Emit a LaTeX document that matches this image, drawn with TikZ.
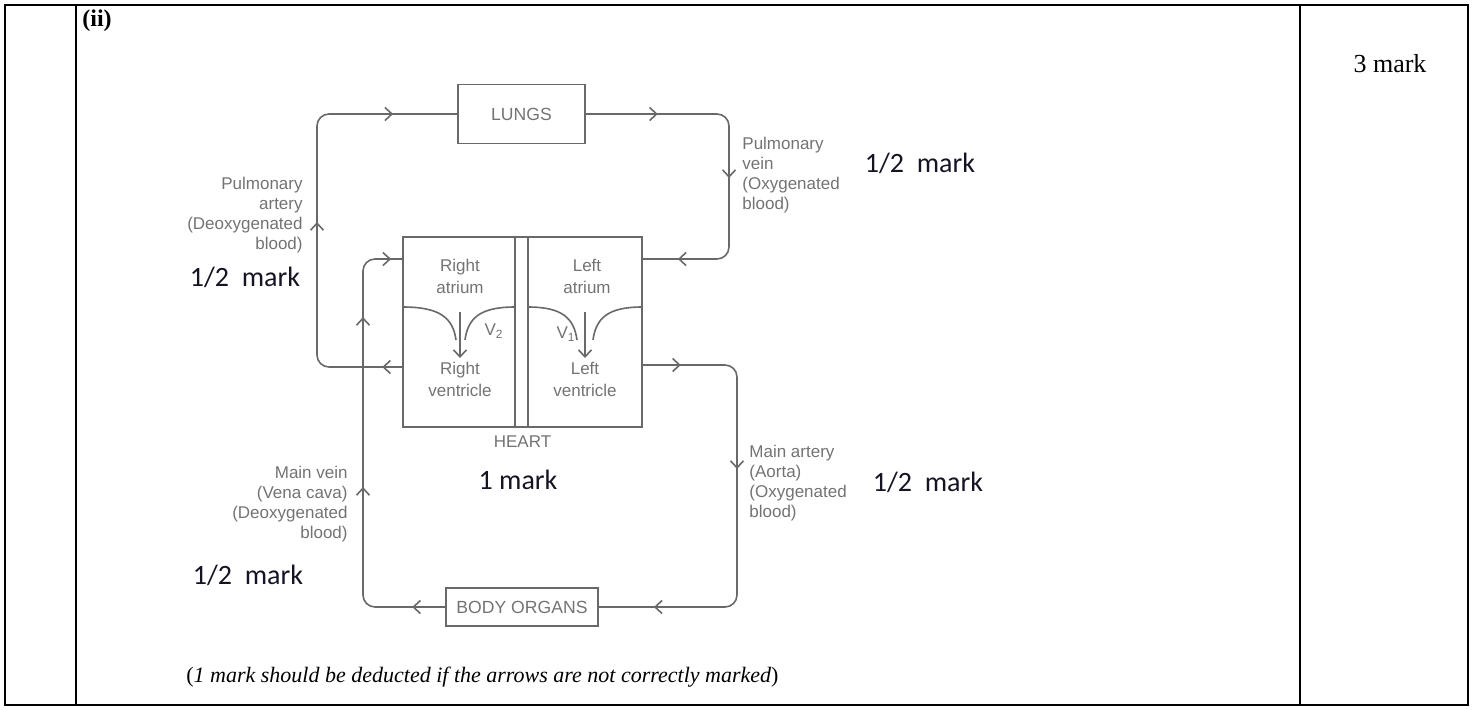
\documentclass[tikz,border=0pt]{standalone}
\usepackage{fontspec}
\setmainfont{Liberation Serif}
\newfontfamily\diagfont{Liberation Sans}
\newfontfamily\markfont{Carlito}
\usetikzlibrary{positioning, arrows.meta, decorations.markings}
\definecolor{ink}{RGB}{105,105,105}
\definecolor{inktext}{RGB}{115,115,115}
\definecolor{markink}{RGB}{20,20,35}
\tikzset{flowtip/.tip={Straight Barb[length=3.5pt, width=6.5pt]}}

\begin{document}
\begin{tikzpicture}[x=0.5pt, y=-0.5pt, every node/.style={inner sep=0pt},
  organ/.style={draw=ink, line width=0.8pt, font=\diagfont\fontsize{8.8}{10}\selectfont, text=inktext},
  lbl/.style={font=\diagfont\fontsize{8.5}{10}\selectfont, text=inktext},
  chamber/.style={lbl, align=center, font=\diagfont\fontsize{8.5}{11}\selectfont},
  marks/.style={font=\markfont\fontsize{14}{16}\selectfont, text=markink},
  flow/.style={ink, line width=0.8pt, rounded corners=6pt},
  tip at/.style={postaction={decorate, decoration={markings, mark=at position #1 with {\arrow{flowtip}}}}},
  tbl/.style={line width=1pt}]
\useasboundingbox (0,0) rectangle (1475,709);

% table cell
\draw[tbl] (5,5) rectangle (1468,705);
\draw[tbl] (76,5) -- (76,705);
\draw[tbl] (1300,5) -- (1300,705);
\node[anchor=west, font=\bfseries\fontsize{12}{14}\selectfont] (part) at (82,21) {(ii)};
\node[font=\fontsize{13}{15}\selectfont] (total) at (1390,64) {3 mark};

% organs
\node[organ, minimum width=63.5pt, minimum height=29.5pt] (lungs) at (521.5,114) {LUNGS};
\node[organ, minimum width=119.5pt, minimum height=95pt] (heart) at (522.5,332) {};
\node[organ, minimum width=76pt, minimum height=19pt] (organs) at (522,607) {BODY ORGANS};
\node[lbl, below=4pt of heart] (heartlbl) {HEART};

% heart chambers and valves
\draw[flow] (515,237) -- (515,427);
\draw[flow] (528,237) -- (528,427);
\draw[flow] (403,307) .. controls (440,307) and (453,318) .. (456,340);
\draw[flow] (465,340) .. controls (468,318) and (480,307) .. (515,307);
\draw[flow] (528,307) .. controls (562,307) and (574,318) .. (577,340);
\draw[flow] (593,340) .. controls (596,318) and (608,307) .. (642,307);
\draw[flow, -flowtip] (460,312) -- (460,358);
\draw[flow, -flowtip] (585,312) -- (585,358);
\node[chamber] (ratrium) at (460,276) {Right\\atrium};
\node[chamber] (rvent) at (460,379) {Right\\ventricle};
\node[chamber] (latrium) at (587,276) {Left\\atrium};
\node[chamber] (lvent) at (585,379) {Left\\ventricle};
\node[lbl] (vtwo) at (494,331) {V\textsubscript{2}};
\node[lbl] (vone) at (566,334) {V\textsubscript{1}};

% vessels
\coordinate (paB) at (317,367);
\coordinate (paT) at (317,114);
\coordinate (pvT) at (729,114);
\coordinate (pvB) at (729,259);
\coordinate (aoT) at (737,365);
\coordinate (aoB) at (737,607);
\coordinate (mvB) at (363,607);
\coordinate (mvT) at (363,259);
\draw[flow, tip at=10pt, tip at=112.5pt, tip at=202pt]
  (heart.west |- paB) -- (paB) -- (paT) -- (lungs.west);
\draw[flow, tip at=36pt, tip at=101pt, tip at=164.5pt]
  (lungs.east) -- (pvT) -- (pvB) -- (heart.east |- pvB);
\draw[flow, tip at=19pt, tip at=96.5pt, tip at=204.5pt]
  (heart.east |- aoT) -- (aoT) -- (aoB) -- (organs.east);
\draw[flow, tip at=16.5pt, tip at=98.5pt, tip at=183.5pt, tip at=224pt]
  (organs.west) -- (mvB) -- (mvT) -- (heart.west |- mvT);

% vessel labels
\node[lbl, align=right, anchor=north east] (palbl) at (303,177) {Pulmonary\\artery\\(Deoxygenated\\blood)};
\node[lbl, align=left, anchor=north west] (pvlbl) at (742,137) {Pulmonary\\vein\\(Oxygenated\\blood)};
\node[lbl, align=left, anchor=north west] (aolbl) at (749,445) {Main artery\\(Aorta)\\(Oxygenated\\blood)};
\node[lbl, align=right, anchor=north east] (mvlbl) at (348,466) {Main vein\\(Vena cava)\\(Deoxygenated\\blood)};

% marks
\node[marks] (mpa) at (245,277) {1/2\ \ mark};
\node[marks] (mpv) at (920,163) {1/2\ \ mark};
\node[marks] (mao) at (928,482) {1/2\ \ mark};
\node[marks] (mmv) at (248,575) {1/2\ \ mark};
\node[marks] (mheart) at (518,480) {1 mark};

\node[anchor=west, font=\fontsize{11}{13}\selectfont] (note) at (186,677)
  {(\textit{1 mark should be deducted if the arrows are not correctly marked})};
\end{tikzpicture}
\end{document}
